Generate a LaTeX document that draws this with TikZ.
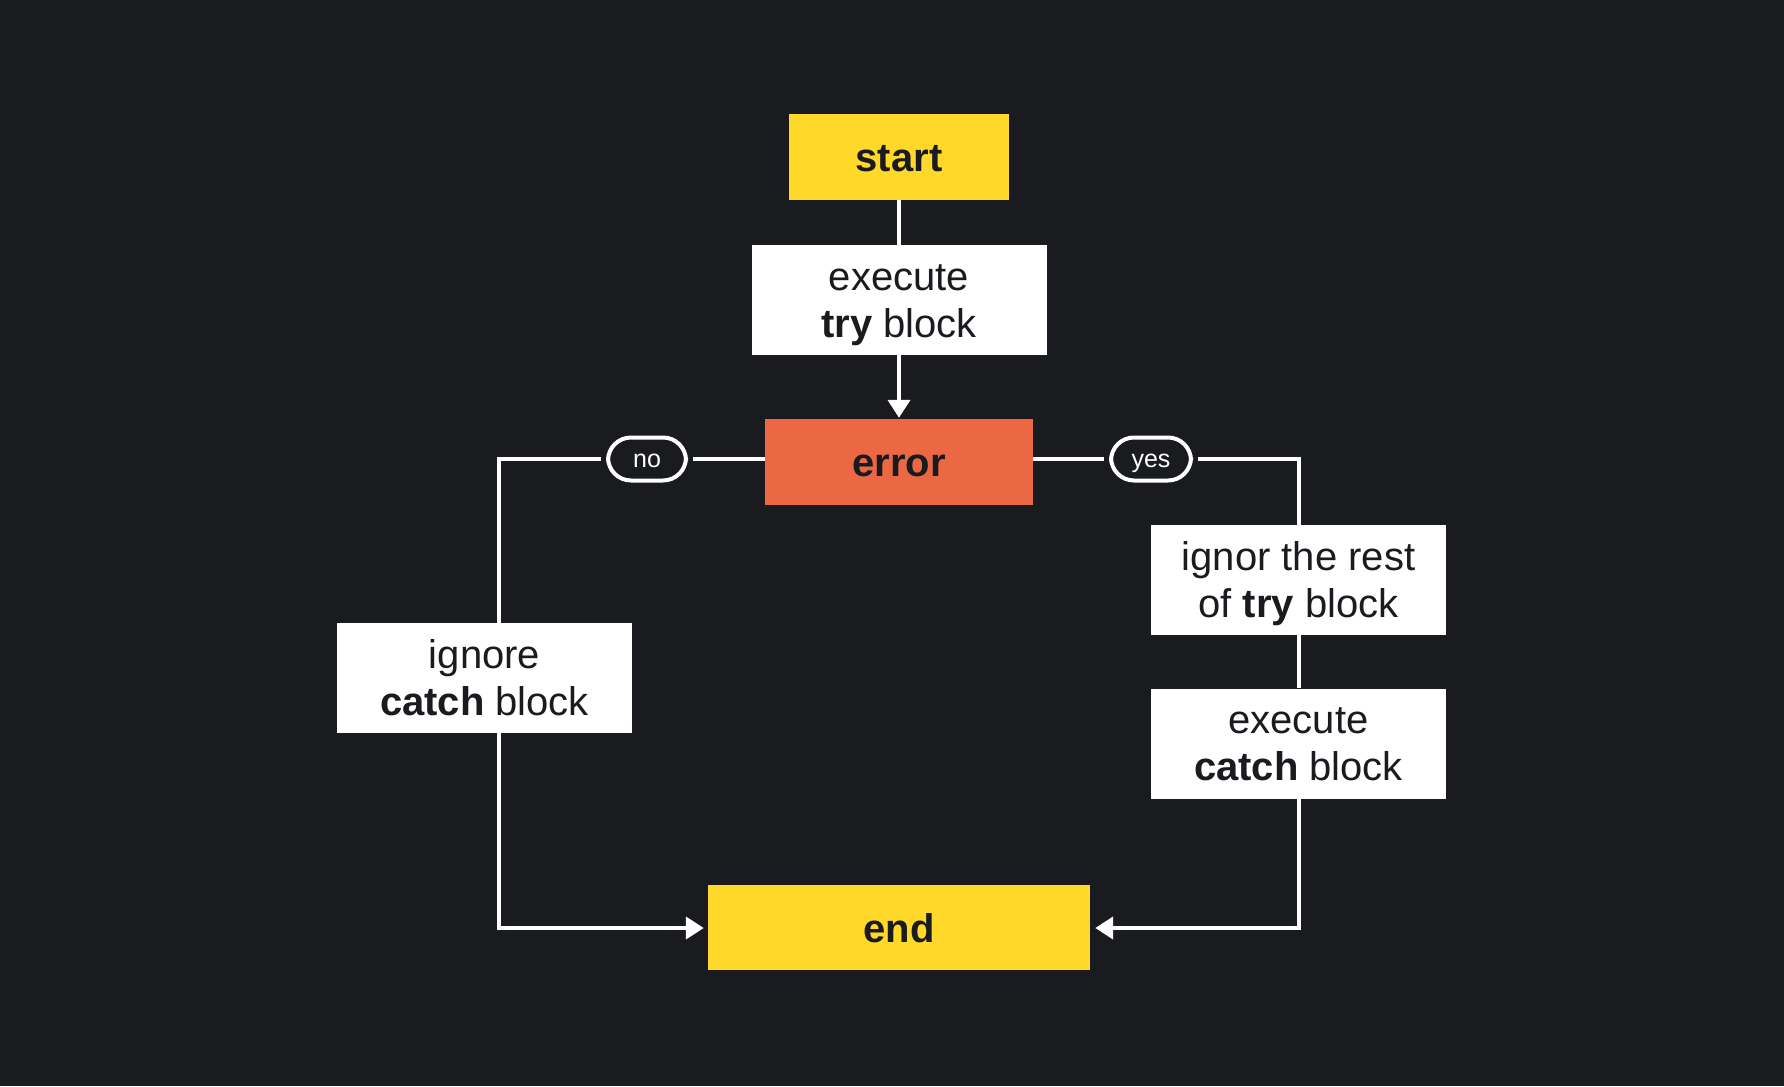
\documentclass[tikz,border=0pt]{standalone}
\usepackage{fontspec}
\setmainfont{Liberation Sans}
\usetikzlibrary{arrows.meta,calc}
\definecolor{bg}{HTML}{1A1B1F}
\definecolor{ylw}{HTML}{FFD829}
\definecolor{org}{HTML}{EC6845}
\definecolor{txt}{HTML}{1A1B1F}
\newcommand{\twolines}[2]{\raisebox{-37pt}{\begin{tabular}[b]{@{}c@{}}#1\\#2\end{tabular}}}
\tikzset{
  base/.style={rectangle, inner sep=0pt, text=txt},
  term/.style={base, fill=ylw, minimum height=86pt, text height=29.4pt, text depth=0pt, font=\fontsize{40}{47}\selectfont\bfseries},
  errbox/.style={base, fill=org, minimum width=268pt, minimum height=86pt, text height=29.4pt, text depth=0pt, font=\fontsize{40}{47}\selectfont\bfseries},
  proc/.style={base, fill=white, minimum width=295pt, minimum height=110pt, text height=0pt, text depth=0pt, font=\fontsize{40}{47}\selectfont},
  pill/.style={rectangle, rounded corners=23pt, draw=white, line width=4pt, text=white, inner sep=0pt, minimum height=43pt, text height=16pt, text depth=0pt, font=\fontsize{25}{30}\selectfont},
  conn/.style={draw=white, line width=4pt},
  arr/.style={conn, -{Triangle[width=22pt,length=18pt]}},
}
\begin{document}
\begin{tikzpicture}[x=1pt,y=-1pt]
\fill[bg] (0,0) rectangle (1784,1086);
\useasboundingbox (0,0) rectangle (1784,1086);
\node[term, minimum width=220pt] (start) at (899,157) {start};
\node[proc] (try) at (899,300) {\twolines{execute}{\textbf{try} block}};
\node[errbox] (error) at (899,462) {error};
\node[pill, minimum width=78pt] (no) at (647,459) {no};
\node[pill, minimum width=80pt] (yes) at (1151,459) {yes};
\node[proc] (ignore) at (484.5,678) {\twolines{ignore}{\textbf{catch} block}};
\node[proc] (rest) at (1298.5,580) {\twolines{ignor the rest}{of \textbf{try} block}};
\node[proc] (catch) at (1298.5,743.5) {\twolines{execute}{\textbf{catch} block}};
\node[term, minimum width=382pt, minimum height=85pt] (end) at (899,927.5) {end};
\coordinate (cl) at (499,459);
\coordinate (cbl) at (499,928);
\coordinate (cr) at (1299,459);
\coordinate (cbr) at (1299,928);
% connectors
\draw[conn] (start.south) -- (try.north);
\draw[arr, shorten >=1pt] (try.south) -- (error.north);
\draw[conn, shorten <=5pt] (no.east) -- (no.east -| error.west);
\draw[conn, shorten <=5pt] (no.west) -- (cl) -- (ignore.north -| cl);
\draw[arr, shorten >=4pt] (ignore.south -| cl) -- (cbl) -- (cbl -| end.west);
\draw[conn, shorten >=5pt] (yes.west -| error.east) -- (yes.west);
\draw[conn, shorten <=5pt] (yes.east) -- (cr) -- (rest.north -| cr);
\draw[conn] (rest.south -| cr) -- (catch.north -| cr);
\draw[arr, shorten >=5pt] (catch.south -| cr) -- (cbr) -- (cbr -| end.east);
\end{tikzpicture}
\end{document}
